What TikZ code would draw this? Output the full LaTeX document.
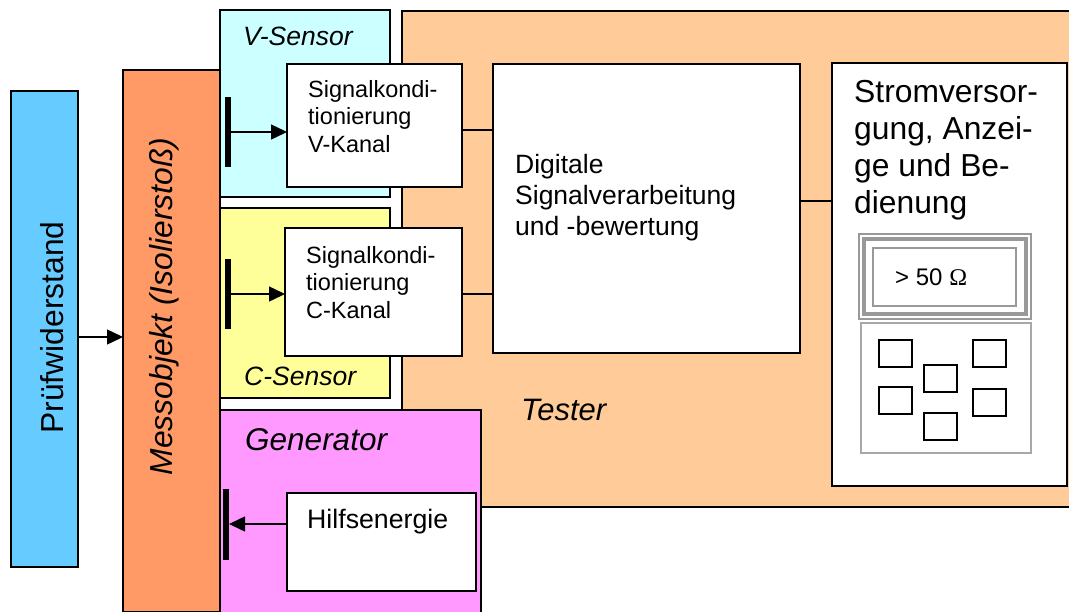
\documentclass[tikz,border=0pt]{standalone}
\usepackage{fontspec}
\setmainfont{Liberation Sans}
\newfontfamily\symfont{Liberation Serif}
\usetikzlibrary{arrows.meta}
\definecolor{pruefblue}{HTML}{66CCFF}
\definecolor{messorange}{HTML}{FF9966}
\definecolor{vcyan}{HTML}{CCFFFF}
\definecolor{cyellow}{HTML}{FFFF99}
\definecolor{testerpeach}{HTML}{FFCC99}
\definecolor{genpink}{HTML}{FF99FF}
\definecolor{framegray}{HTML}{999999}
\begin{document}
\begin{tikzpicture}[x=1pt,y=-1pt,
  blk/.style={draw, line width=1.3pt, inner sep=0pt, outer sep=0pt},
  bar/.style={fill=black, inner sep=0pt, outer sep=0pt, minimum width=6pt},
  key/.style={draw, line width=1.2pt, inner sep=0pt, minimum width=33pt, minimum height=27pt},
  txt/.style={inner sep=0pt, anchor=base west, align=left},
  con/.style={line width=1.5pt},
  arr/.style={con, -{Triangle[length=16pt,width=15pt]}}]
\useasboundingbox (0,0) rectangle (1069,611);
\clip (0,0) rectangle (1069,611);
\node[blk, fill=testerpeach, minimum width=678pt, minimum height=496pt] (tester) at (741,259) {};
\node[blk, fill=pruefblue, minimum width=67pt, minimum height=476pt] (prue) at (44.5,329) {};
\node[blk, fill=messorange, minimum width=97pt, minimum height=542pt] (mess) at (171.5,341) {};
\node[blk, fill=vcyan, minimum width=170pt, minimum height=187pt] (vsens) at (305,103.5) {};
\node[blk, fill=cyellow, minimum width=170pt, minimum height=190pt] (csens) at (305,303) {};
\node[blk, fill=genpink, minimum width=261pt, minimum height=205pt] (gen) at (350.5,512.5) {};
\node[blk, fill=white, minimum width=175pt, minimum height=123pt] (sigv) at (374.5,125.5) {};
\node[blk, fill=white, minimum width=177pt, minimum height=128pt] (sigc) at (373.5,292) {};
\node[blk, fill=white, minimum width=307pt, minimum height=289pt] (dsp) at (646.5,208.5) {};
\node[blk, fill=white, minimum width=235pt, minimum height=423pt] (strom) at (949.5,274.5) {};
\node[blk, fill=white, minimum width=189pt, minimum height=98pt] (hilf) at (381.5,542) {};
\node[bar, minimum height=70pt] (barv) at (227.5,132) {};
\node[bar, minimum height=70pt] (barc) at (227.5,294) {};
\node[bar, minimum height=71pt] (barg) at (226,524) {};

\node[draw=framegray, line width=1.2pt, inner sep=0pt, minimum width=172pt, minimum height=85pt] (disp) at (945,276.5) {};
\draw[framegray, line width=4pt] (864,239) rectangle (1026,314);
\draw[framegray, line width=1.5pt] (873,248) rectangle (1016,306);
\node[draw=framegray!85, line width=1.2pt, inner sep=0pt, minimum width=170pt, minimum height=130pt] (keys) at (946,388) {};
\foreach \bx/\by [count=\i] in {895.5/353.5, 989.5/353.5, 940.5/378.5, 895.5/400.5, 989.5/402.5, 940.5/426.5}
  \node[key] (key\i) at (\bx,\by) {};

\draw[arr] ([yshift=-8pt]prue.east) -- ([yshift=-8pt]prue.east -| mess.west);
\draw[arr] (barv.east) -- (barv.east -| sigv.west);
\draw[arr] (barc.east) -- (barc.east -| sigc.west);
\draw[arr] (hilf.west |- barg) -- (barg.east);
\draw[con] ([yshift=-4.5pt]sigv.east) -- ([yshift=-4.5pt]sigv.east -| dsp.west);
\draw[con] (sigc.east |- barc) -- (dsp.west |- barc);
\draw[con] ([yshift=7.5pt]dsp.east) -- ([yshift=7.5pt]dsp.east -| strom.west);

\node[txt, font=\fontsize{26.5}{30}\selectfont\itshape] (vlabel) at (243,45) {V-Sensor};
\node[txt, font=\fontsize{26.5}{30}\selectfont\itshape] (clabel) at (244,385) {C-Sensor};
\node[txt, font=\fontsize{31.5}{36}\selectfont\itshape] (glabel) at (245,450) {Generator};
\node[txt, font=\fontsize{31}{36}\selectfont\itshape] (tlabel) at (521,420) {Tester};
\node[txt, font=\fontsize{23.5}{27.5}\selectfont] (sigvtext) at (308,152) {Signalkondi-\\tionierung\\V-Kanal};
\node[txt, font=\fontsize{23.5}{27.5}\selectfont] (sigctext) at (306,318) {Signalkondi-\\tionierung\\C-Kanal};
\node[txt, font=\fontsize{26.5}{31}\selectfont] (dsptext) at (515,235) {Digitale\\Signalverarbeitung\\und -bewertung};
\node[txt, font=\fontsize{31.8}{36.7}\selectfont] (stromtext) at (854,213) {Stromversor-\\gung, Anzei-\\ge und Be-\\dienung};
\node[txt, font=\fontsize{26.7}{31}\selectfont] (hilftext) at (307,528) {Hilfsenergie};
\node[txt, font=\fontsize{24}{28}\selectfont] (disptext) at (895,285) {> 50 {\symfont Ω}};
\node[inner sep=0pt, anchor=base, rotate=90, font=\fontsize{31.8}{36}\selectfont] (pruetext) at (63,327.5) {Prüfwiderstand};
\node[inner sep=0pt, anchor=base, rotate=90, font=\fontsize{31.8}{36}\selectfont\itshape] (messtext) at (172,306.5) {Messobjekt (Isolierstoß)};
\end{tikzpicture}
\end{document}
